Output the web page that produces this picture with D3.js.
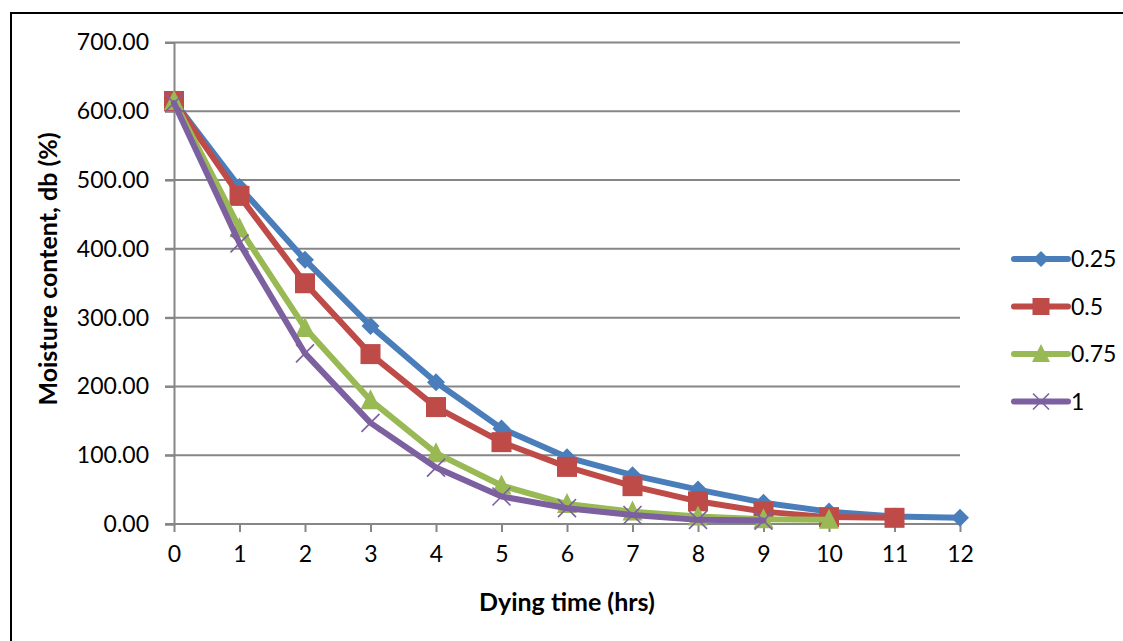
<!DOCTYPE html>
<html>
<head>
<meta charset="utf-8">
<script src="https://cdn.jsdelivr.net/npm/d3@7"></script>
<style>
  html, body { margin: 0; padding: 0; background: #fff; }
  svg { display: block; font-family: Lato, "Open Sans", sans-serif; }
</style>
</head>
<body>
<svg id="chart" width="1123" height="641"></svg>
<script>
// Drying time (hours) and moisture content (% dry basis) per air-flow setting
const hours = [0, 1, 2, 3, 4, 5, 6, 7, 8, 9, 10, 11, 12];
const seriesNames = ["0.25", "0.5", "0.75", "1"];
const mc025 = [615, 490, 384, 288, 206, 139, 97, 71, 50, 31, 18, 11, 9];
const mc050 = [615, 477, 350, 247, 170, 119, 83, 55, 33, 18, 10, 9];
const mc075 = [615, 430, 285, 180, 103, 56, 29, 18, 11, 7, 6];
const mc100 = [612, 408, 248, 147, 82, 40, 23, 13, 6, 5];
const yTicks = [0, 100, 200, 300, 400, 500, 600, 700];
const xLabel = "Dying time (hrs)";
const yLabel = "Moisture content, db (%)";

const seriesValues = [mc025, mc050, mc075, mc100];
const colors = ["#4a7ebb", "#be4b48", "#98b954", "#7d60a0"];
const shapes = ["diamond", "square", "triangle", "cross"];

const svg = d3.select("#chart");

// outer chart frame
svg.append("rect")
  .attr("x", 11).attr("y", 13)
  .attr("width", 1130).attr("height", 650)
  .attr("fill", "none").attr("stroke", "#000").attr("stroke-width", 2);

const x = d3.scaleLinear().domain([0, 12]).range([174, 960]);
const y = d3.scaleLinear().domain([0, 700]).range([524, 42.5]);
const grey = "#868686";
const tickFont = 23;

// horizontal gridlines
svg.append("g").selectAll("line").data(yTicks.filter(v => v > 0)).join("line")
  .attr("x1", 165).attr("x2", 960)
  .attr("y1", d => y(d)).attr("y2", d => y(d))
  .attr("stroke", grey).attr("stroke-width", 2);

// y axis
const yAxis = svg.append("g")
  .attr("transform", `translate(${x(0)},0)`)
  .call(d3.axisLeft(y).tickValues(yTicks).tickFormat(d3.format(".2f")).tickSize(9).tickPadding(16));
yAxis.select(".domain").attr("stroke", grey).attr("stroke-width", 2);
yAxis.selectAll(".tick line").attr("stroke", grey).attr("stroke-width", 2);
yAxis.selectAll(".tick text").attr("font-size", tickFont).attr("fill", "#000")
  .attr("font-family", "Lato, sans-serif");

// x axis
const xAxis = svg.append("g")
  .attr("transform", `translate(0,${y(0)})`)
  .call(d3.axisBottom(x).tickValues(hours).tickFormat(d3.format("d")).tickSize(8).tickPadding(14));
xAxis.select(".domain").attr("stroke", grey).attr("stroke-width", 2)
  .attr("d", `M165,0H${x(12)}`);
xAxis.selectAll(".tick line").attr("stroke", grey).attr("stroke-width", 2);
xAxis.selectAll(".tick text").attr("font-size", tickFont).attr("fill", "#000")
  .attr("font-family", "Lato, sans-serif");

// axis titles
svg.append("text")
  .attr("x", 567).attr("y", 611)
  .attr("text-anchor", "middle")
  .attr("font-size", 25).attr("font-weight", "bold")
  .text(xLabel);
svg.append("text")
  .attr("transform", "translate(57,269) rotate(-90)")
  .attr("text-anchor", "middle")
  .attr("font-size", 25).attr("font-weight", "bold")
  .text(yLabel);

// marker drawing
function drawMarker(g, shape, color, size) {
  if (shape === "diamond") {
    const s = size / 2;
    g.append("path").attr("d", `M0,${-s}L${s},0L0,${s}L${-s},0Z`).attr("fill", color);
  } else if (shape === "square") {
    g.append("rect").attr("x", -size / 2).attr("y", -size / 2)
      .attr("width", size).attr("height", size).attr("fill", color);
  } else if (shape === "triangle") {
    const h = size;
    g.append("path").attr("d", `M0,${-h / 2 - 2}L${h / 2 + 1},${h / 2}L${-h / 2 - 1},${h / 2}Z`)
      .attr("fill", color);
  } else {
    const s = size / 2;
    g.append("path").attr("d", `M${-s},${-s}L${s},${s}M${-s},${s}L${s},${-s}`)
      .attr("stroke", color).attr("stroke-width", 1.6).attr("fill", "none");
  }
}

const markerSize = { diamond: 18, square: 20, triangle: 18, cross: 18 };
const line = d3.line().x((d, i) => x(hours[i])).y(d => y(d));

seriesValues.forEach((vals, si) => {
  const g = svg.append("g");
  g.append("path")
    .attr("d", line(vals))
    .attr("fill", "none")
    .attr("stroke", colors[si])
    .attr("stroke-width", 6)
    .attr("stroke-linejoin", "round")
    .attr("stroke-linecap", "round");
  vals.forEach((v, i) => {
    const m = g.append("g").attr("transform", `translate(${x(hours[i])},${y(v)})`);
    drawMarker(m, shapes[si], colors[si], markerSize[shapes[si]]);
  });
});

// legend
const legend = svg.append("g");
seriesNames.forEach((name, i) => {
  const ly = 259 + i * 47.5;
  const g = legend.append("g").attr("transform", `translate(0,${ly})`);
  g.append("line").attr("x1", 1014).attr("x2", 1068).attr("y1", 0).attr("y2", 0)
    .attr("stroke", colors[i]).attr("stroke-width", 6).attr("stroke-linecap", "round");
  const m = g.append("g").attr("transform", "translate(1041,0)");
  drawMarker(m, shapes[i], colors[i], shapes[i] === "square" ? 17 : 16);
  g.append("text").attr("x", 1071).attr("y", 8)
    .attr("font-size", tickFont).attr("fill", "#000").text(name);
});
</script>
</body>
</html>
